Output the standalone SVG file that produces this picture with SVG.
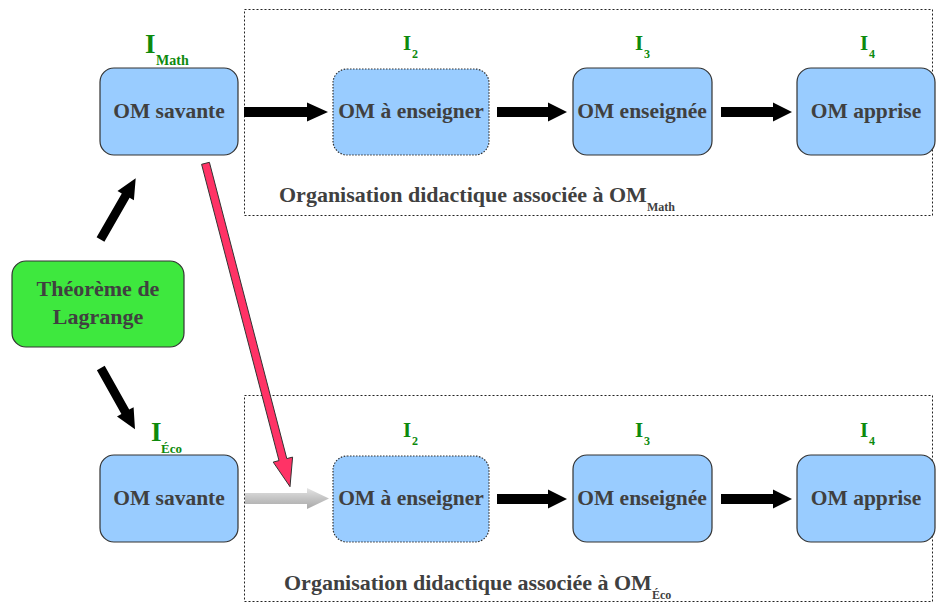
<svg xmlns="http://www.w3.org/2000/svg" width="936" height="603" viewBox="0 0 936 603">
  <defs>
    <style>
      .frame { fill: none; stroke: #222; stroke-width: 1; stroke-dasharray: 2 2; }
      .box { fill: #99ccff; stroke: #333; stroke-width: 1.2; }
      .box.dotted { stroke-dasharray: 1.5 1.5; }
      .start { fill: #3ee83e; stroke: #333; stroke-width: 1.2; }
      .lbl { font-family: "Liberation Serif", "Times New Roman", serif; font-weight: bold; fill: #404040; }
      .idx { font-family: "Liberation Serif", "Times New Roman", serif; font-weight: bold; fill: #0d8a0d; }
      .blk { fill: #000; }
      .red { fill: #ff3366; stroke: #333; stroke-width: 1; }
    </style>
    <linearGradient id="greyArrow" x1="0" y1="0" x2="0" y2="1">
      <stop offset="0" stop-color="#e4e4e4"/>
      <stop offset="0.5" stop-color="#c4c4c4"/>
      <stop offset="1" stop-color="#a8a8a8"/>
    </linearGradient>
  </defs>

  <!-- didactic organisation frames -->
  <g id="frame-math">
    <rect class="frame" x="244.5" y="9.5" width="688" height="206"/>
    <text class="lbl" x="279" y="202" font-size="22">Organisation didactique associée à OM<tspan font-size="12" dy="9">Math</tspan></text>
  </g>
  <g id="frame-eco">
    <rect class="frame" x="244.5" y="395.5" width="688" height="206"/>
    <text class="lbl" x="284" y="590" font-size="22">Organisation didactique associée à OM<tspan font-size="12" dy="9">Éco</tspan></text>
  </g>

  <!-- connectors -->
  <g id="connectors">
    <!-- Lagrange to the two savantes -->
    <polygon class="blk" points="96.6,237.3 121.8,193.4 117.5,190.9 135.7,178.3 133.9,200.3 129.6,197.8 104.4,241.7"/>
    <polygon class="blk" points="96.9,370.2 121.4,414.0 117.0,416.4 135,429.3 133.6,407.2 129.2,409.6 104.7,365.8"/>
    <!-- top row -->
    <path class="blk" d="M244,107 H307 V102.5 L328,112 L307,121.5 V117 H244 Z"/>
    <path class="blk" d="M497,107 H548 V102.5 L567,112 L548,121.5 V117 H497 Z"/>
    <path class="blk" d="M721,107 H773 V102.5 L792,112 L773,121.5 V117 H721 Z"/>
    <!-- bottom row -->
    <path d="M245,493 H307 V488 L329,498.5 L307,509 V504 H245 Z" fill="url(#greyArrow)"/>
    <path class="blk" d="M497,494 H548 V489.5 L567,499 L548,508.5 V504 H497 Z"/>
    <path class="blk" d="M721,494 H773 V489.5 L792,499 L773,508.5 V504 H721 Z"/>
    <!-- transposition from OM savante (Math) to OM à enseigner (Éco) -->
    <polygon class="red" points="201.6,164.3 279.0,460.6 273.2,462.1 290,486.7 292.6,457.1 286.8,458.6 209.4,162.3"/>
  </g>

  <!-- start node -->
  <g id="lagrange">
    <rect class="start" x="12" y="261" width="172" height="86" rx="14"/>
    <text class="lbl" x="98" y="296" font-size="22" text-anchor="middle">Théorème de</text>
    <text class="lbl" x="98" y="324" font-size="22" text-anchor="middle">Lagrange</text>
  </g>

  <!-- top row -->
  <g id="savante-math">
    <rect class="box" x="100" y="68" width="138" height="87" rx="14"/>
    <text class="lbl" x="169" y="118" font-size="21.5" text-anchor="middle">OM savante</text>
    <text class="idx" x="145" y="53" font-size="27">I</text>
    <text class="idx" x="156" y="65" font-size="14">Math</text>
  </g>
  <g id="enseigner-math">
    <rect class="box dotted" x="333" y="69" width="156" height="86" rx="14"/>
    <text class="lbl" x="411" y="118" font-size="21.5" text-anchor="middle">OM à enseigner</text>
    <text class="idx" x="403" y="50" font-size="21">I</text>
    <text class="idx" x="412" y="58" font-size="12">2</text>
  </g>
  <g id="enseignee-math">
    <rect class="box" x="573" y="68" width="139" height="87" rx="14"/>
    <text class="lbl" x="642" y="118" font-size="21.5" text-anchor="middle">OM enseignée</text>
    <text class="idx" x="635" y="50" font-size="21">I</text>
    <text class="idx" x="644" y="58" font-size="12">3</text>
  </g>
  <g id="apprise-math">
    <rect class="box" x="797" y="68" width="138" height="87" rx="14"/>
    <text class="lbl" x="866" y="118" font-size="21.5" text-anchor="middle">OM apprise</text>
    <text class="idx" x="860" y="50" font-size="21">I</text>
    <text class="idx" x="869" y="58" font-size="12">4</text>
  </g>

  <!-- bottom row -->
  <g id="savante-eco">
    <rect class="box" x="100" y="455" width="138" height="87" rx="14"/>
    <text class="lbl" x="169" y="505" font-size="21.5" text-anchor="middle">OM savante</text>
    <text class="idx" x="151" y="441" font-size="27">I</text>
    <text class="idx" x="161" y="453" font-size="13">Éco</text>
  </g>
  <g id="enseigner-eco">
    <rect class="box dotted" x="333" y="456" width="156" height="86" rx="14"/>
    <text class="lbl" x="411" y="505" font-size="21.5" text-anchor="middle">OM à enseigner</text>
    <text class="idx" x="403" y="437" font-size="21">I</text>
    <text class="idx" x="412" y="445" font-size="12">2</text>
  </g>
  <g id="enseignee-eco">
    <rect class="box" x="573" y="455" width="139" height="87" rx="14"/>
    <text class="lbl" x="642" y="505" font-size="21.5" text-anchor="middle">OM enseignée</text>
    <text class="idx" x="635" y="437" font-size="21">I</text>
    <text class="idx" x="644" y="445" font-size="12">3</text>
  </g>
  <g id="apprise-eco">
    <rect class="box" x="797" y="455" width="138" height="87" rx="14"/>
    <text class="lbl" x="866" y="505" font-size="21.5" text-anchor="middle">OM apprise</text>
    <text class="idx" x="860" y="437" font-size="21">I</text>
    <text class="idx" x="869" y="445" font-size="12">4</text>
  </g>
</svg>
